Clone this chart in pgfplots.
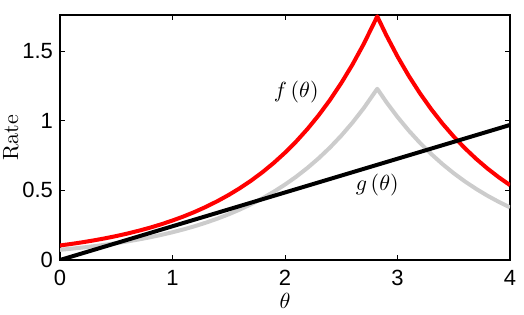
\documentclass[border=0pt]{standalone}
\usepackage{pgfplots}
\pgfplotsset{compat=1.18}
\usepackage{fontspec}
\setmainfont{Liberation Sans}
\newfontfamily\lmr{Latin Modern Roman}
\usetikzlibrary{calc}
\begin{document}
\begin{tikzpicture}
  \begin{axis}[
      scale only axis,
      width=225pt,
      height=122.5pt,
      xmin=0, xmax=4,
      ymin=0, ymax=1.76,
      xtick={0,1,2,3,4},
      ytick={0,0.5,1,1.5},
      tick align=inside,
      major tick length=2.5pt,
      tick style={black, line width=0.5pt},
      axis line style={line width=0.6pt},
      /pgf/number format/assume math mode=true,
      tick label style={font=\fontsize{11}{13}\selectfont},
      xticklabel style={yshift=-1.5pt},
      xlabel={$\theta$},
      ylabel={{\lmr Rate}},
      label style={font=\fontsize{11}{13}\selectfont},
      xlabel style={yshift=3pt},
      ylabel style={yshift=-5pt},
      clip=true,
      every axis plot/.append style={line join=round},
    ]
    \addplot[color=black!20, line width=2pt] coordinates {
        (0,0.0733) (0.1,0.0810) (0.2,0.0895) (0.3,0.0990) (0.4,0.1094)
        (0.5,0.1209) (0.6,0.1336) (0.7,0.1476) (0.8,0.1632) (0.9,0.1803)
        (1.0,0.1993) (1.1,0.2203) (1.2,0.2434) (1.3,0.2690) (1.4,0.2973)
        (1.5,0.3286) (1.6,0.3631) (1.7,0.4013) (1.8,0.4435) (1.9,0.4902)
        (2.0,0.5417) (2.1,0.5987) (2.2,0.6617) (2.3,0.7313) (2.4,0.8082)
        (2.5,0.8932) (2.6,0.9871) (2.7,1.0909) (2.82,1.23) (2.9,1.1354)
        (3.0,1.0274) (3.1,0.9296) (3.2,0.8411) (3.3,0.7611) (3.4,0.6887)
        (3.5,0.6231) (3.6,0.5638) (3.7,0.5102) (3.8,0.4616) (3.9,0.4177)
        (4.0,0.3780)
      };
    \addplot[color=red, line width=2pt] coordinates {
        (0,0.1043) (0.1,0.1153) (0.2,0.1274) (0.3,0.1408) (0.4,0.1556)
        (0.5,0.1720) (0.6,0.1901) (0.7,0.2101) (0.8,0.2322) (0.9,0.2566)
        (1.0,0.2836) (1.1,0.3134) (1.2,0.3463) (1.3,0.3827) (1.4,0.4230)
        (1.5,0.4675) (1.6,0.5167) (1.7,0.5710) (1.8,0.6310) (1.9,0.6974)
        (2.0,0.7708) (2.1,0.8518) (2.2,0.9414) (2.3,1.0404) (2.4,1.1498)
        (2.5,1.2708) (2.6,1.4044) (2.7,1.5521) (2.82,1.75) (2.9,1.6155)
        (3.0,1.4617) (3.1,1.3226) (3.2,1.1968) (3.3,1.0829) (3.4,0.9798)
        (3.5,0.8866) (3.6,0.8022) (3.7,0.7259) (3.8,0.6568) (3.9,0.5943)
        (4.0,0.5377)
      };
    \addplot[color=black, line width=2pt] coordinates {
        (0,0) (4,0.97)
      };
    \node[font=\fontsize{11}{13}\selectfont] at (axis cs:2.1,1.21) {$f\,(\theta)$};
    \node[font=\fontsize{11}{13}\selectfont] at (axis cs:2.82,0.54) {$g\,(\theta)$};
  \end{axis}
  \pgfresetboundingbox
  \path ($(current axis.south west)+(-30pt,-27.5pt)$) rectangle ($(current axis.north east)+(7pt,7.5pt)$);
\end{tikzpicture}
\end{document}
